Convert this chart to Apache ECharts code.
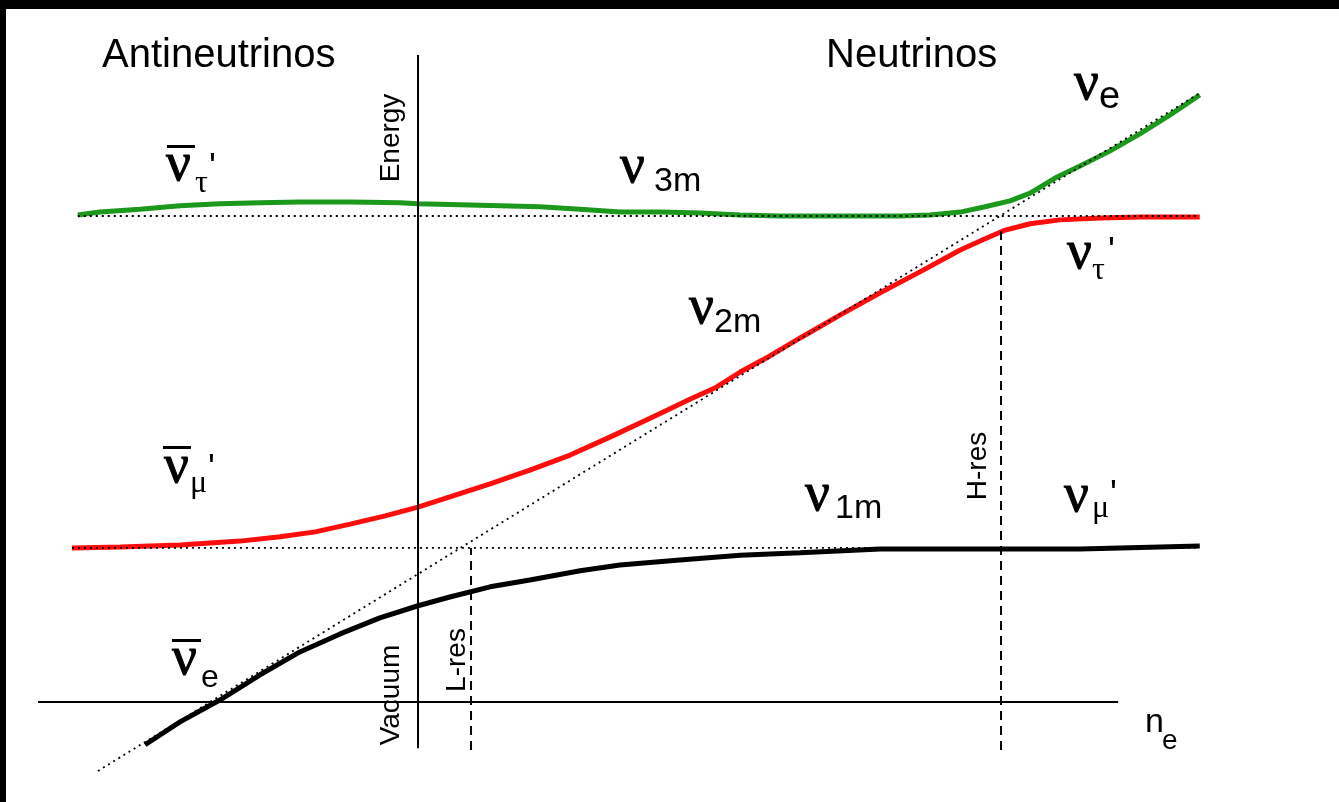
<!DOCTYPE html>
<html>
<head>
<meta charset="utf-8">
<script src="https://cdn.jsdelivr.net/npm/echarts@6/dist/echarts.min.js"></script>
<style>
  html, body { margin: 0; padding: 0; background: #000; }
  #chart { position: absolute; left: 6px; top: 9px; width: 1333px; height: 793px; background: #fff; }
</style>
</head>
<body>
<div id="chart"></div>
<script>
// Level-crossing diagram: matter eigenstates vs. electron density n_e.
// x: density in units where L-resonance = 1 (negative side = antineutrinos)
// E: energy in units where the nu_tau' level = 10

const nuTauLevel = 10.0;
const nuMuLevel = 3.17;
const lRes = 1;
const hRes = 11;

// nu_3m (green)
const ne3m = [-6.42, -6.00, -5.25, -4.49, -3.74, -2.98, -2.23, -1.28, -0.34, 0, 0.79, 1.55, 2.30, 3.06, 3.81, 4.57, 5.32, 6.08, 6.83, 7.58, 8.34, 9.09, 9.66, 10.23, 10.70, 11.17, 11.55, 12.02, 12.49, 13.06, 13.62, 14.19, 14.75];
const e3m = [10.02, 10.08, 10.14, 10.21, 10.25, 10.27, 10.29, 10.29, 10.27, 10.25, 10.23, 10.21, 10.19, 10.14, 10.08, 10.08, 10.06, 10.02, 10.00, 10.00, 10.00, 10.00, 10.02, 10.08, 10.19, 10.31, 10.47, 10.78, 11.03, 11.34, 11.69, 12.08, 12.49];

// nu_2m (red)
const ne2m = [-6.53, -5.62, -4.49, -3.36, -2.60, -1.94, -1.28, -0.62, 0, 0.60, 1.36, 2.11, 2.87, 3.62, 4.38, 5.13, 5.60, 6.08, 6.64, 7.21, 7.96, 8.72, 9.47, 10.23, 10.70, 11.08, 11.55, 12.11, 12.87, 13.62, 14.75];
const e2m = [3.17, 3.19, 3.23, 3.31, 3.40, 3.50, 3.66, 3.83, 4.01, 4.22, 4.49, 4.77, 5.08, 5.45, 5.84, 6.23, 6.46, 6.79, 7.12, 7.49, 7.96, 8.42, 8.85, 9.30, 9.53, 9.71, 9.84, 9.92, 9.96, 9.98, 9.98];

// nu_1m (black)
const ne1m = [-5.15, -4.49, -3.74, -2.98, -2.23, -1.47, -0.72, 0, 0.60, 1.36, 2.11, 3.06, 3.81, 4.94, 6.08, 7.21, 8.72, 10.23, 11.74, 12.49, 13.25, 14.75];
const e1m = [-0.88, -0.41, 0.04, 0.56, 1.03, 1.40, 1.73, 1.98, 2.16, 2.37, 2.51, 2.70, 2.82, 2.92, 3.02, 3.07, 3.15, 3.15, 3.15, 3.15, 3.17, 3.21];

// unmixed nu_e level (straight line in n_e)
const neDiag = [-6.04, 14.75];
const eDiag = [-1.42, 12.53];

// flavour level extents
const tauLevelRange = [-6.42, 14.75];
const muLevelRange = [-6.53, 14.75];

// axes
const densityAxisRange = [-7.17, 13.21];
const energyAxisRange = [-0.95, 13.31];
const resLineBottom = -0.99;

const zip = (xs, ys) => xs.map((x, i) => [x, ys[i]]);

const chart = echarts.init(document.getElementById('chart'), null, { renderer: 'canvas' });

const GREEN = '#1c991c';
const RED = '#ff0d0d';
const BLACK = '#000000';

function curve(name, data, color, width, type, z) {
  return {
    name, type: 'line', data, symbol: 'none', showSymbol: false, z: z || 2,
    silent: true, animation: false,
    lineStyle: { color, width, type: type || 'solid', cap: 'butt' }
  };
}

const dotted = [2, 4];
const dashed = [9, 6];

const series = [
  curve('nu3m', zip(ne3m, e3m), GREEN, 5, 'solid', 3),
  curve('nu2m', zip(ne2m, e2m), RED, 5, 'solid', 3),
  curve('nu1m', zip(ne1m, e1m), BLACK, 5, 'solid', 3),
  curve('nuTau', [[tauLevelRange[0], nuTauLevel], [tauLevelRange[1], nuTauLevel]], BLACK, 1.8, dotted, 5),
  curve('nuMu', [[muLevelRange[0], nuMuLevel], [muLevelRange[1], nuMuLevel]], BLACK, 1.8, dotted, 5),
  curve('nuE', zip(neDiag, eDiag), BLACK, 1.8, dotted, 5),
  curve('densityAxis', [[densityAxisRange[0], 0], [densityAxisRange[1], 0]], BLACK, 2, 'solid', 4),
  curve('energyAxis', [[0, energyAxisRange[0]], [0, energyAxisRange[1]]], BLACK, 2, 'solid', 4),
  curve('lRes', [[lRes, resLineBottom], [lRes, nuMuLevel]], BLACK, 2, dashed, 4),
  curve('hRes', [[hRes, resLineBottom], [hRes, 9.81]], BLACK, 2, dashed, 4)
];

// text annotations (page pixel positions; chart box is offset by the frame)
const OX = 6, OY = 9;
const SERIF = '"Liberation Serif", "DejaVu Serif", serif';
const SANS = '"Liberation Sans", Arial, sans-serif';

function T(text, x, y, size, family, heavy) {
  const style = {
    text, fontSize: size, fontFamily: family, fill: '#000',
    align: 'left', verticalAlign: 'middle'
  };
  if (heavy) { style.stroke = '#000'; style.lineWidth = heavy; }
  return { type: 'text', x: x - OX, y: y - OY, z: 10, silent: true, style };
}
// Greek nu, drawn slightly heavier
function N(x, y) { return T('ν', x, y + 4, NU, SERIF, 1.0); }
function bar(x1, x2, y) {
  return { type: 'rect', z: 10, silent: true, shape: { x: x1 - OX, y: y - OY, width: x2 - x1, height: 3 }, style: { fill: '#000' } };
}
function rot(text, cx, cy, size) {
  return {
    type: 'text', x: cx - OX, y: cy - OY, rotation: Math.PI / 2, z: 10, silent: true,
    style: { text, fontSize: size, fontFamily: SANS, fill: '#000', align: 'center', verticalAlign: 'middle' }
  };
}

const NU = 55, SUB = 32, PRIME = 36;
const graphics = [
  T('Antineutrinos', 102, 56, 40, SANS),
  T('Neutrinos', 826, 56, 40, SANS),
  rot('Energy', 391, 138, 28),
  rot('Vacuum', 391, 695, 28),
  rot('L-res', 457, 660, 28),
  rot('H-res', 978, 466, 28),

  // anti nu_tau'
  bar(167, 195, 145),
  N(166, 162),
  T('τ', 195, 184, SUB, SERIF),
  T('\'', 209, 169, PRIME, SANS),

  // nu_3m
  N(620, 164),
  T('3m', 654, 182, 34, SANS),

  // nu_e
  N(1074, 81),
  T('e', 1099, 98, 38, SANS),

  // nu_tau'
  N(1067, 250),
  T('τ', 1092, 271, SUB, SERIF),
  T('\'', 1108, 253, PRIME, SANS),

  // nu_2m
  N(689, 305),
  T('2m', 714, 323, 34, SANS),

  // anti nu_mu'
  bar(163, 191, 446),
  N(164, 464),
  T('μ', 190, 484, SUB, SERIF),
  T('\'', 208, 470, PRIME, SANS),

  // nu_1m
  N(805, 492),
  T('1m', 835, 509, 34, SANS),

  // nu_mu'
  N(1064, 493),
  T('μ', 1092, 509, SUB, SERIF),
  T('\'', 1110, 496, PRIME, SANS),

  // anti nu_e
  bar(172, 201, 639),
  N(172, 656),
  T('e', 201, 678, SUB, SANS),

  // density label
  T('n', 1145, 723, 34, SANS),
  T('e', 1162, 741, 28, SANS)
];

chart.setOption({
  animation: false,
  backgroundColor: '#fff',
  grid: { left: 0, right: 0, top: 0, bottom: 0, containLabel: false },
  xAxis: { type: 'value', min: -7.774, max: 17.377, show: false, splitLine: { show: false } },
  yAxis: { type: 'value', min: -2.058, max: 14.259, show: false, splitLine: { show: false } },
  series,
  graphic: graphics
});
</script>
</body>
</html>
